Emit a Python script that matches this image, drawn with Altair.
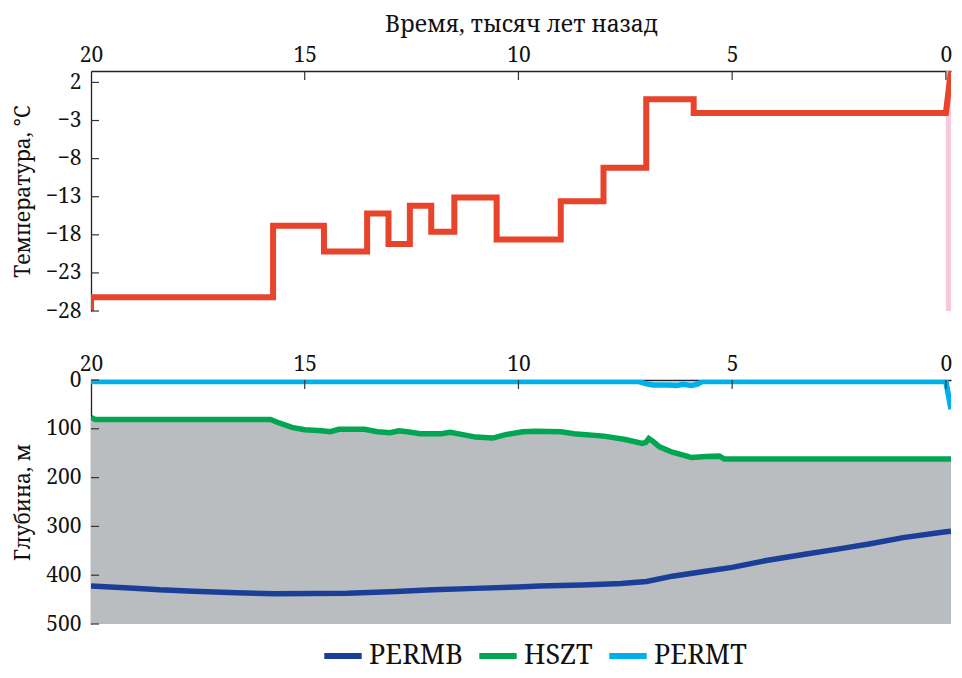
import altair as alt
import pandas as pd

# ---------------- data ----------------
temp_edges = [20, 15.74, 14.55, 13.54, 13.04, 12.54, 12.04, 11.50, 10.51, 9.01, 8.01, 7.01, 5.90, 0]
temp_vals = [-26.2, -16.8, -20.2, -15.2, -19.2, -14.2, -17.6, -13.1, -18.6, -13.6, -9.2, -0.2, -2.0]
temp_start = -28.0
temp_end_kyr = -0.12
temp_end = 3.5

hszt_kyr = [20.0, 19.9, 15.8, 15.6, 15.3, 15.0, 14.6, 14.4, 14.2, 13.6, 13.3, 13.0, 12.8, 12.6,
            12.3, 11.8, 11.6, 11.3, 11.0, 10.6, 10.3, 9.9, 9.6, 9.0, 8.7, 8.0, 7.5, 7.1, 7.02,
            6.95, 6.85, 6.7, 6.4, 6.1, 5.95, 5.6, 5.3, 5.18, 0.0, -0.12]
hszt_depth = [77, 81, 81, 88, 97, 102, 104, 106, 101, 101, 106, 108, 104, 106,
              110, 110, 107, 112, 117, 119, 112, 106, 105, 106, 110, 115, 122, 130, 128,
              120, 126, 137, 148, 155, 159, 157, 156, 162, 162, 162]

permb_kyr = [20.0, 19.1, 18.4, 17.6, 16.6, 15.7, 14.0, 13.0, 12.0, 11.0, 10.0, 9.5, 8.5, 7.6,
             7.0, 6.4, 5.7, 5.0, 4.2, 3.3, 2.5, 1.8, 1.0, 0.0, -0.12]
permb_depth = [422, 426, 430, 433, 436, 438, 437, 434, 430, 427, 424, 422, 420, 417,
               413, 402, 393, 384, 370, 357, 346, 336, 323, 311, 310]

permt_kyr = [20.0, 7.2, 7.0, 6.85, 6.5, 6.3, 6.15, 5.95, 5.8, 5.7, 0.0, -0.12]
permt_depth = [3, 3, 8, 10, 10, 11, 9, 11, 8, 3, 3, 60]

series_names = ["PERMB", "HSZT", "PERMT"]
series_colors = ["#1b3f98", "#00a651", "#00b0ea"]

x_ticks = [20, 15, 10, 5, 0]
x_inner_ticks = [15, 10, 5, 0]
temp_ticks = [2, -3, -8, -13, -18, -23, -28]
depth_ticks = [0, 100, 200, 300, 400, 500]
band_kyr = [0, -0.12]

# ---------------- tables ----------------
tk, tv = [temp_edges[0]], [temp_start]
for i, v in enumerate(temp_vals):
    tk += [temp_edges[i], temp_edges[i + 1]]
    tv += [v, v]
tk.append(temp_end_kyr)
tv.append(temp_end)
temp_df = pd.DataFrame({"kyr": tk, "temp": tv, "i": range(len(tk))})

lines_df = pd.concat([
    pd.DataFrame({"kyr": permb_kyr, "depth": permb_depth, "series": "PERMB"}),
    pd.DataFrame({"kyr": hszt_kyr, "depth": hszt_depth, "series": "HSZT"}),
    pd.DataFrame({"kyr": permt_kyr, "depth": permt_depth, "series": "PERMT"}),
], ignore_index=True)
hszt_df = pd.DataFrame({"kyr": hszt_kyr, "depth": hszt_depth})
band_df = pd.DataFrame({"kyr": [band_kyr[0]], "kyr2": [band_kyr[1]]})
xt_df = pd.DataFrame({"kyr": x_inner_ticks})
tt_df = pd.DataFrame({"temp": temp_ticks})
dt_df = pd.DataFrame({"depth": depth_ticks})

FONT = "Noto Serif"
W, H1, H2 = 860, 240, 244
xscale = alt.Scale(domain=[20, -0.12], nice=False, zero=False)
tscale = alt.Scale(domain=[-28, 3.5], nice=False, zero=False)
dscale = alt.Scale(domain=[0, 500], reverse=True, nice=False)
TICKC = "#333333"

xaxis_top = alt.Axis(orient="top", values=x_ticks, title="Время, тысяч лет назад",
                     labelFlush=False, titlePadding=8, labelPadding=6, titleFontSize=23)
yaxis_top = alt.Axis(values=temp_ticks, title="Температура, °C", format="d",
                     minExtent=52, maxExtent=52, titlePadding=6, labelPadding=10)
xaxis_bot = alt.Axis(orient="top", values=x_ticks, title=None, labelFlush=False,
                     labelPadding=6)
yaxis_bot = alt.Axis(values=depth_ticks, title="Глубина, м",
                     minExtent=52, maxExtent=52, titlePadding=6, labelPadding=10)

band = alt.Chart(band_df).mark_rect(color="#f7c9d9").encode(
    x=alt.X("kyr:Q", scale=xscale, axis=xaxis_top), x2="kyr2:Q",
    y=alt.value(0), y2=alt.value(H1))

temp_line = alt.Chart(temp_df).mark_line(color="#e8432b", strokeWidth=6, clip=True).encode(
    x=alt.X("kyr:Q", scale=xscale, axis=xaxis_top),
    y=alt.Y("temp:Q", scale=tscale, axis=yaxis_top),
    order="i:Q")

xt_top = alt.Chart(xt_df).mark_rule(color=TICKC, strokeWidth=1.2).encode(
    x=alt.X("kyr:Q", scale=xscale, axis=xaxis_top), y=alt.value(0), y2=alt.value(9))
yt_top = alt.Chart(tt_df).mark_rule(color=TICKC, strokeWidth=1.2).encode(
    y=alt.Y("temp:Q", scale=tscale, axis=yaxis_top), x=alt.value(0), x2=alt.value(8))

top = alt.layer(band, temp_line, xt_top, yt_top).properties(width=W, height=H1)

area = alt.Chart(hszt_df).mark_area(color="#b9bdbf", opacity=1, clip=True).encode(
    x=alt.X("kyr:Q", scale=xscale, axis=xaxis_bot),
    y=alt.Y("depth:Q", scale=dscale, axis=yaxis_bot),
    y2=alt.datum(500))

lines = alt.Chart(lines_df).mark_line(strokeWidth=5.5, clip=True).encode(
    x=alt.X("kyr:Q", scale=xscale, axis=xaxis_bot),
    y=alt.Y("depth:Q", scale=dscale, axis=yaxis_bot),
    color=alt.Color("series:N", sort=series_names,
                    scale=alt.Scale(domain=series_names, range=series_colors),
                    legend=alt.Legend(orient="none", legendX=230, legendY=563,
                                      direction="horizontal", title=None,
                                      symbolType="stroke", symbolStrokeWidth=6,
                                      symbolSize=1400, labelFont=FONT, labelFontSize=27,
                                      labelColor="#111111", labelOffset=4,
                                      columnPadding=4, padding=0)))

xt_bot = alt.Chart(xt_df).mark_rule(color=TICKC, strokeWidth=1.2).encode(
    x=alt.X("kyr:Q", scale=xscale, axis=xaxis_bot), y=alt.value(0), y2=alt.value(9))
yt_bot = alt.Chart(dt_df).mark_rule(color=TICKC, strokeWidth=1.2).encode(
    y=alt.Y("depth:Q", scale=dscale, axis=yaxis_bot), x=alt.value(0), x2=alt.value(8))

bottom = alt.layer(area, lines, xt_bot, yt_bot).properties(width=W, height=H2)

chart = alt.vconcat(top, bottom, spacing=32).properties(
    padding={"left": 4, "top": 5, "right": 0, "bottom": 2}
).configure_view(stroke=None).configure_axis(
    labelFont=FONT, labelFontSize=21, labelColor="#111111",
    titleFont=FONT, titleFontSize=21, titleFontWeight="normal", titleColor="#111111",
    domainColor="#222222", domainWidth=1.3, tickSize=0, ticks=False, grid=False,
    labelOverlap=False
)

chart.save("out.html", embed_options={"renderer": "svg", "actions": False})
